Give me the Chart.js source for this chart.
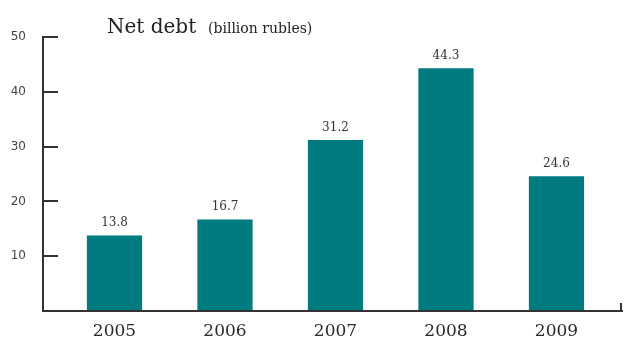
<!DOCTYPE html>
<html>
<head>
<meta charset="utf-8">
<script src="https://cdn.jsdelivr.net/npm/chart.js@4.4.1/dist/chart.umd.min.js"></script>
<style>
  html, body { margin: 0; padding: 0; background: #fff; overflow: hidden; }
  #wrap { position: relative; width: 624px; height: 339px; }
</style>
</head>
<body>
<div id="wrap"><canvas id="c"></canvas></div>
<script>
// Net debt by year, billion rubles
const years = ['2005', '2006', '2007', '2008', '2009'];
const netDebt = [13.8, 16.7, 31.2, 44.3, 24.6];
const yTicks = [0, 10, 20, 30, 40, 50];

const AXIS = '#333333';
const BAR = '#007b80';

// Heading with a smaller unit note beside it
const heading = {
  id: 'heading',
  afterDraw(chart) {
    const ctx = chart.ctx;
    ctx.save();
    ctx.fillStyle = '#222';
    ctx.textBaseline = 'alphabetic';
    ctx.textAlign = 'left';
    ctx.font = '20px "DejaVu Serif"';
    ctx.fillText('Net debt', 107, 33);
    ctx.font = '14px "DejaVu Serif"';
    ctx.fillText('(billion rubles)', 208, 33);
    ctx.restore();
  }
};

// Value labels above each bar, plus the closing tick at the axis end
const extras = {
  id: 'extras',
  afterDatasetsDraw(chart) {
    const ctx = chart.ctx;
    const meta = chart.getDatasetMeta(0);
    ctx.save();
    ctx.fillStyle = '#333';
    ctx.font = '12px "DejaVu Serif"';
    ctx.textAlign = 'center';
    ctx.textBaseline = 'alphabetic';
    meta.data.forEach((bar, i) => {
      ctx.fillText(netDebt[i].toFixed(1), bar.x, bar.y - 9);
    });
    const area = chart.chartArea;
    const y0 = chart.scales.y.getPixelForValue(0);
    ctx.strokeStyle = AXIS;
    ctx.lineWidth = 2;
    ctx.beginPath();
    ctx.moveTo(area.right - 1, y0);
    ctx.lineTo(area.right - 1, y0 - 8);
    ctx.stroke();
    ctx.restore();
  }
};

new Chart(document.getElementById('c'), {
  type: 'bar',
  data: {
    datasets: [{
      data: netDebt.map((v, i) => ({ x: i, y: v })),
      backgroundColor: BAR,
      borderWidth: 0,
      barPercentage: 0.5,
      categoryPercentage: 1.0
    }]
  },
  options: {
    responsive: true,
    maintainAspectRatio: false,
    animation: false,
    layout: { padding: { top: 37, right: 2, left: 0, bottom: 0 } },
    plugins: { legend: { display: false }, tooltip: { enabled: false } },
    scales: {
      x: {
        type: 'linear',
        offset: false,
        min: -0.647,
        max: 4.593,
        afterBuildTicks(scale) {
          scale.ticks = years.map((_, i) => ({ value: i }));
        },
        afterFit(scale) {
          scale.height = 28;
          scale.paddingLeft = 0;
          scale.paddingRight = 0;
        },
        grid: { display: false, drawTicks: false },
        border: { display: true, color: AXIS, width: 2 },
        ticks: {
          padding: 10,
          color: '#2a2a2a',
          font: { family: 'DejaVu Serif', size: 17 },
          callback: (v) => years[v]
        }
      },
      y: {
        min: 0,
        max: 50,
        afterBuildTicks(scale) {
          scale.ticks = yTicks.map(v => ({ value: v }));
        },
        afterFit(scale) {
          // keep the plot box fixed; tick padding should not reserve vertical room
          scale.width = 43;
          scale.paddingTop = 0;
          scale.paddingBottom = 0;
        },
        grid: {
          drawOnChartArea: false,
          drawTicks: true,
          tickLength: -15,
          color: AXIS,
          tickColor: AXIS,
          lineWidth: 2,
          tickWidth: 2
        },
        border: { display: true, color: AXIS, width: 2 },
        ticks: {
          padding: 32,
          color: '#444',
          font: { family: 'DejaVu Sans', size: 12 },
          callback: (v) => (v === 0 ? '' : String(v))
        }
      }
    }
  },
  plugins: [heading, extras]
});
</script>
</body>
</html>
